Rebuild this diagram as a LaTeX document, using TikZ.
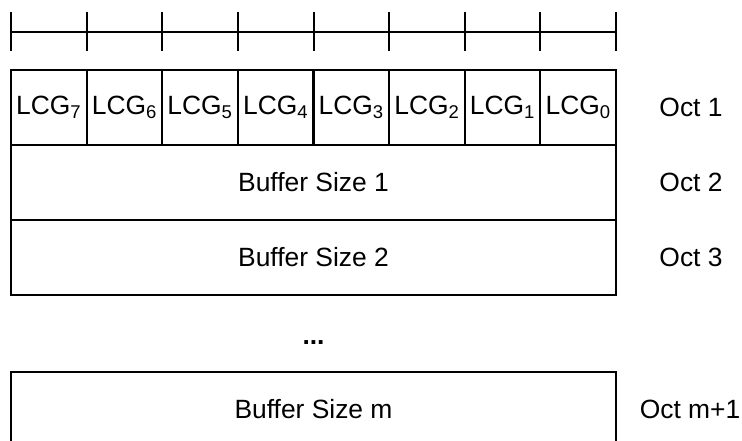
\documentclass[tikz,border=0pt]{standalone}
\usepackage{fontspec}
\setmainfont{Liberation Sans}
\usetikzlibrary{positioning}

\begin{document}
\begin{tikzpicture} [x=0.75pt, y=-0.75pt,
    font = \fontsize{19.8}{23}\selectfont,
    cell/.style = {draw, line width=1.5pt, outer sep=0pt, inner sep=0pt,
                   minimum width=56.7pt, minimum height=56.25pt},
    row/.style = {cell, minimum width=453.75pt},
    ]
        \tikzset{tick/.style = {line width=1.5pt}}
    \useasboundingbox (0,0) rectangle (742,441);
    % ruler
    \coordinate (r0) at (11,32);
    \coordinate (r8) at (616,32);
    \draw[tick] (r0) -- (r8);
    \foreach \i in {0,...,8}
        \draw[tick] ({11+75.625*\i},12) -- ({11+75.625*\i},51);

    % octet 1
    \foreach \i/\n in {0/7,1/6,2/5,3/4,4/3,5/2,6/1,7/0}
        \node[cell] (lcg\n) at ({11+75.625*(\i+0.5)},107.5) {LCG\textsubscript{\n}};

    \node[row] (buf1) at (313.5,182.5) {Buffer Size 1};
    \node[row] (buf2) at (313.5,257.5) {Buffer Size 2};
    \node (dots) at (313.5,343) {\textbf{...}};
    \node[row] (bufm) at (313.5,409) {Buffer Size m};

    \node (oct1) at (691,107.5) {Oct 1};
    \node (oct2) at (691,182.5) {Oct 2};
    \node (oct3) at (691,257.5) {Oct 3};
    \node (octm) at (690,409) {Oct m+1};

\end{tikzpicture}
\end{document}
